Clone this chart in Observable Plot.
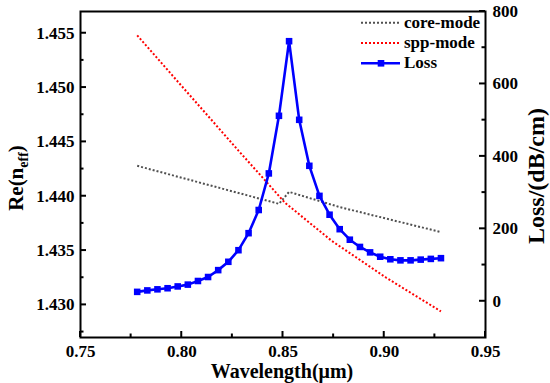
<!DOCTYPE html>
<html><head><meta charset="utf-8">
<script src="https://cdn.jsdelivr.net/npm/d3@7"></script>
<script src="https://cdn.jsdelivr.net/npm/@observablehq/plot@0.6"></script>
<style>
body{margin:0;background:#fff}
#chart{position:relative;width:550px;height:383px}
#chart svg{position:absolute;left:0;top:0}
#chart svg text{font-family:"Liberation Serif","Times New Roman",serif !important;font-weight:bold !important;}
</style></head><body><div id="chart"></div>
<script>
// ---- data ----
const wavelength = [0.778,0.783,0.788,0.793,0.798,0.803,0.808,0.813,0.818,0.823,0.828,0.833,0.838,0.843,0.848,0.853,0.858,0.863,0.868,0.873,0.878,0.883,0.888,0.893,0.898,0.903,0.908,0.913,0.918,0.923,0.928];
const loss = [26,30,33,36,41,46,56,67,86,109,141,188,252,353,512,718,501,374,291,239,199,170,150,135,123,116,113,113,115,117,119];
const coreLambda = [0.778,0.828,0.848,0.853,0.878,0.928];
const coreNeff = [1.4428,1.4403,1.4393,1.4404,1.4390,1.4367];
const sppLambda = [0.778,0.828,0.851,0.874,0.901,0.928];
const sppNeff = [1.4548,1.4442,1.4394,1.4359,1.4325,1.4294];
const xTicks = [0.75,0.80,0.85,0.90,0.95];
const xMinor = [0.775,0.825,0.875,0.925];
const nTicks = [1.430,1.435,1.440,1.445,1.450,1.455];
const nMinor = [1.4275,1.4325,1.4375,1.4425,1.4475,1.4525];
const lossTicks = [0,200,400,600,800];
const lossMinor = [100,300,500,700];
const seriesNames = ["core-mode","spp-mode","Loss"];
const seriesColors = ["#505050","#ff0000","#0000ff"];
const xLabel = "Wavelength(μm)";
const lossLabel = "Loss/(dB/cm)";

// ---- build ----
const coreData = coreLambda.map((w,i)=>({w, n: coreNeff[i]}));
const sppData = sppLambda.map((w,i)=>({w, n: sppNeff[i]}));
const lossData = wavelength.map((w,i)=>({w, loss: loss[i]}));

const W = 550, H = 383;
const M = {marginLeft:80, marginRight:65, marginTop:11, marginBottom:46};
const MAJ = 6, MIN = 3.5;
const FONT = '"Liberation Serif","Times New Roman",serif';
const style = `font-family:${FONT};font-weight:bold;font-size:17px;color:#000;background:transparent;overflow:visible;`;
const TF = {fontFamily: FONT, fontWeight: "bold", fontSize: 17};
const dotted = {strokeWidth: 2, strokeDasharray: "2,2", strokeLinecap: "butt", strokeLinejoin: "miter"};

const plotA = Plot.plot({
  width: W, height: H, ...M, style,
  x: {domain: [0.75, 0.95]},
  y: {domain: [1.427, 1.457]},
  marks: [
    Plot.line(coreData, {x: "w", y: "n", stroke: seriesColors[0], ...dotted}),
    Plot.line(sppData, {x: "w", y: "n", stroke: seriesColors[1], ...dotted}),
    Plot.axisX({ticks: xTicks, tickSize: 0, tickPadding: 7, tickFormat: d3.format(".2f"), label: null, ...TF}),
    Plot.axisY({ticks: nTicks, tickSize: 0, tickPadding: 6, tickFormat: d3.format(".3f"), label: null, ...TF}),
    Plot.frame({strokeWidth: 2})
  ]
});

const plotB = Plot.plot({
  width: W, height: H, ...M, style,
  x: {domain: [0.75, 0.95], axis: null},
  y: {domain: [-100, 800]},
  marks: [
    Plot.line(lossData, {x: "w", y: "loss", stroke: seriesColors[2], strokeWidth: 2.6}),
    Plot.dot(lossData, {x: "w", y: "loss", symbol: "square", r: 3.7, fill: seriesColors[2]}),
    Plot.axisY({anchor: "right", ticks: lossTicks, tickSize: 0, tickPadding: 7, tickFormat: d => d, label: null, ...TF})
  ]
});

const chart = document.getElementById("chart");
chart.appendChild(plotA);
chart.appendChild(plotB);

// inward ticks, positioned with the plots' own scales
const sx = plotA.scale("x"), sy = plotA.scale("y"), sl = plotB.scale("y");
const L = M.marginLeft, R = W - M.marginRight, B = H - M.marginBottom;
const sa = d3.select(plotA), sb = d3.select(plotB);
const tg = sa.append("g").attr("stroke", "#000").attr("stroke-width", 2);
[[xTicks, MAJ], [xMinor, MIN]].forEach(([ts, len]) => ts.forEach(t => {
  const px = sx.apply(t);
  tg.append("line").attr("x1", px).attr("x2", px).attr("y1", B).attr("y2", B - len);
}));
[[nTicks, MAJ], [nMinor, MIN]].forEach(([ts, len]) => ts.forEach(t => {
  const py = sy.apply(t);
  tg.append("line").attr("x1", L).attr("x2", L + len).attr("y1", py).attr("y2", py);
}));
const tgb = sb.append("g").attr("stroke", "#000").attr("stroke-width", 2);
[[lossTicks, MAJ], [lossMinor, MIN]].forEach(([ts, len]) => ts.forEach(t => {
  const py = sl.apply(t);
  tgb.append("line").attr("x1", R).attr("x2", R - len).attr("y1", py).attr("y2", py);
}));

// axis titles
sa.append("text").attr("x", 282).attr("y", 378).attr("text-anchor", "middle")
  .attr("font-size", 20).attr("fill", "#000").text(xLabel);
const re = sa.append("text").attr("transform", "translate(23,178) rotate(-90)").attr("text-anchor", "middle")
  .attr("font-size", 21).attr("fill", "#000");
re.append("tspan").text("Re(n");
re.append("tspan").attr("font-size", 14).attr("dy", 5).text("eff");
re.append("tspan").attr("dy", -5).text(")");
sa.append("text").attr("transform", "translate(544,176) rotate(-90)").attr("text-anchor", "middle")
  .attr("font-size", 24).attr("fill", "#000").text(lossLabel);

// legend
const rows = [22.7, 43, 63.3];
seriesNames.forEach((name, i) => {
  const g = sb.append("g");
  const ln = g.append("line").attr("x1", 361).attr("x2", 400).attr("y1", rows[i]).attr("y2", rows[i])
    .attr("stroke", seriesColors[i]);
  if (i < 2) ln.attr("stroke-width", 2).attr("stroke-dasharray", "2,2");
  else {
    ln.attr("stroke-width", 2.6);
    g.append("rect").attr("x", 381 - 3.3).attr("y", rows[i] - 3.3).attr("width", 6.6).attr("height", 6.6).attr("fill", seriesColors[i]);
  }
  g.append("text").attr("x", 404).attr("y", rows[i] + 5).attr("text-anchor", "start").attr("font-size", 17)
    .attr("fill", "#000").text(name);
});
</script></body></html>
